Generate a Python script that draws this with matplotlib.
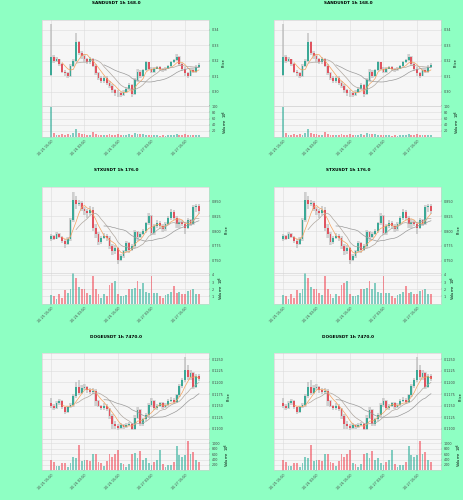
import matplotlib
matplotlib.use("Agg")
import matplotlib.pyplot as plt
import numpy as np

BG = "#8effc3"
GREEN = "#22ab94"
RED = "#f2404f"

XTICK_POS = [0, 12, 24, 36, 48]
XTICK_LABELS = ["10-25 15:00", "10-26 03:00", "10-26 15:00", "10-27 03:00", "10-27 15:00"]

# ---------------- SANDUSDT ----------------
sand_title = "SANDUSDT 1h 168.0"
sand_open0 = 0.3110
sand_close = [0.3225, 0.3200, 0.3210, 0.3180, 0.3130, 0.3120, 0.3105, 0.3170, 0.3200, 0.3320,
              0.3250, 0.3230, 0.3210, 0.3190, 0.3210, 0.3170, 0.3120, 0.3090, 0.3070, 0.3090,
              0.3060, 0.3040, 0.3010, 0.2995, 0.2990, 0.2980, 0.3000, 0.3020, 0.3045, 0.2985,
              0.3075, 0.3130, 0.3100, 0.3140, 0.3190, 0.3150, 0.3130, 0.3150, 0.3160, 0.3145,
              0.3140, 0.3150, 0.3165, 0.3190, 0.3205, 0.3225, 0.3180, 0.3150, 0.3120, 0.3105,
              0.3140, 0.3130, 0.3160, 0.3175]
sand_high = [0.3440, 0.3235, 0.3225, 0.3215, 0.3185, 0.3140, 0.3130, 0.3180, 0.3215, 0.3380,
             0.3330, 0.3265, 0.3245, 0.3220, 0.3225, 0.3220, 0.3180, 0.3130, 0.3100, 0.3105,
             0.3100, 0.3070, 0.3050, 0.3020, 0.3010, 0.3000, 0.3010, 0.3030, 0.3060, 0.3050,
             0.3090, 0.3150, 0.3140, 0.3150, 0.3200, 0.3195, 0.3160, 0.3160, 0.3170, 0.3170,
             0.3155, 0.3160, 0.3175, 0.3200, 0.3215, 0.3245, 0.3230, 0.3185, 0.3160, 0.3130,
             0.3150, 0.3150, 0.3175, 0.3185]
sand_low = [0.3100, 0.3185, 0.3190, 0.3165, 0.3120, 0.3105, 0.3090, 0.3095, 0.3160, 0.3195,
            0.3235, 0.3215, 0.3195, 0.3180, 0.3180, 0.3160, 0.3110, 0.3075, 0.3055, 0.3060,
            0.3045, 0.3025, 0.2995, 0.2975, 0.2970, 0.2965, 0.2975, 0.2995, 0.3015, 0.2970,
            0.2980, 0.3065, 0.3090, 0.3095, 0.3135, 0.3140, 0.3120, 0.3125, 0.3145, 0.3135,
            0.3130, 0.3135, 0.3145, 0.3160, 0.3185, 0.3200, 0.3170, 0.3135, 0.3100, 0.3090,
            0.3100, 0.3120, 0.3125, 0.3155]
sand_volume = [98, 12, 8, 6, 9, 7, 10, 8, 12, 26,
               14, 10, 9, 7, 8, 16, 10, 8, 6, 5,
               7, 9, 6, 8, 10, 7, 6, 5, 9, 8,
               12, 10, 9, 11, 8, 6, 5, 7, 6, 4,
               5, 4, 6, 8, 7, 9, 8, 6, 10, 7,
               5, 6, 8, 5]
sand_yticks = [0.30, 0.31, 0.32, 0.33, 0.34]
sand_ylim = (0.2909, 0.3464)
sand_vticks = [20, 40, 60, 80, 100]
sand_vlim = (0, 101)

# ---------------- STXUSDT ----------------
stx_title = "STXUSDT 1h 176.0"
stx_open0 = 0.786
stx_close = [0.792, 0.787, 0.795, 0.790, 0.783, 0.778, 0.786, 0.818, 0.852, 0.845,
             0.848, 0.838, 0.834, 0.830, 0.836, 0.806, 0.795, 0.781, 0.788, 0.792,
             0.789, 0.775, 0.766, 0.771, 0.752, 0.758, 0.766, 0.780, 0.769, 0.775,
             0.798, 0.790, 0.795, 0.800, 0.813, 0.826, 0.797, 0.808, 0.813, 0.809,
             0.803, 0.812, 0.822, 0.833, 0.822, 0.812, 0.815, 0.812, 0.806, 0.818,
             0.812, 0.840, 0.843, 0.834]
stx_high = [0.796, 0.794, 0.798, 0.797, 0.792, 0.786, 0.790, 0.822, 0.866, 0.860,
            0.852, 0.850, 0.840, 0.838, 0.842, 0.840, 0.812, 0.798, 0.792, 0.797,
            0.796, 0.792, 0.778, 0.776, 0.773, 0.762, 0.769, 0.784, 0.782, 0.778,
            0.802, 0.800, 0.798, 0.804, 0.816, 0.830, 0.828, 0.812, 0.818, 0.817,
            0.812, 0.815, 0.826, 0.837, 0.836, 0.826, 0.820, 0.818, 0.815, 0.822,
            0.820, 0.844, 0.846, 0.845]
stx_low = [0.784, 0.785, 0.786, 0.788, 0.780, 0.772, 0.776, 0.784, 0.816, 0.838,
           0.842, 0.834, 0.828, 0.822, 0.828, 0.800, 0.788, 0.776, 0.778, 0.786,
           0.784, 0.770, 0.760, 0.762, 0.745, 0.750, 0.755, 0.764, 0.764, 0.766,
           0.772, 0.784, 0.788, 0.793, 0.797, 0.810, 0.794, 0.794, 0.805, 0.804,
           0.798, 0.800, 0.810, 0.819, 0.818, 0.806, 0.806, 0.808, 0.796, 0.804,
           0.808, 0.810, 0.832, 0.829]
stx_volume = [1.2, 1.0, 0.6, 1.3, 0.8, 1.9, 1.5, 2.0, 4.2, 3.5,
              2.3, 2.1, 2.0, 1.5, 1.2, 3.9, 2.0, 1.4, 0.8, 1.3,
              1.0, 2.6, 2.9, 3.1, 1.3, 1.0, 1.1, 1.2, 2.1, 2.0,
              2.2, 3.1, 2.0, 2.8, 1.6, 1.5, 3.9, 1.5, 1.5, 1.0,
              0.8, 1.2, 1.3, 1.6, 2.5, 1.5, 1.6, 1.4, 1.4, 1.7,
              1.9, 2.1, 1.4, 1.3]
stx_yticks = [0.750, 0.775, 0.800, 0.825, 0.850]
stx_ylim = (0.730, 0.875)
stx_vticks = [1, 2, 3, 4]
stx_vlim = (0, 4.3)

# ---------------- DOGEUSDT ----------------
doge_title = "DOGEUSDT 1h 7470.0"
doge_open0 = 0.1156
doge_close = [0.1149, 0.1145, 0.1155, 0.1160, 0.1146, 0.1137, 0.1146, 0.1151, 0.1170, 0.1190,
              0.1178, 0.1189, 0.1190, 0.1183, 0.1179, 0.1182, 0.1160, 0.1150, 0.1145, 0.1150,
              0.1142, 0.1128, 0.1110, 0.1105, 0.1102, 0.1107, 0.1104, 0.1108, 0.1110, 0.1100,
              0.1124, 0.1140, 0.1111, 0.1120, 0.1130, 0.1152, 0.1160, 0.1145, 0.1150, 0.1155,
              0.1146, 0.1152, 0.1160, 0.1163, 0.1158, 0.1172, 0.1192, 0.1206, 0.1228, 0.1211,
              0.1221, 0.1191, 0.1214, 0.1208]
doge_high = [0.1166, 0.1154, 0.1160, 0.1164, 0.1162, 0.1148, 0.1150, 0.1156, 0.1174, 0.1200,
             0.1206, 0.1194, 0.1196, 0.1193, 0.1188, 0.1188, 0.1185, 0.1163, 0.1152, 0.1155,
             0.1154, 0.1145, 0.1132, 0.1116, 0.1110, 0.1112, 0.1110, 0.1112, 0.1115, 0.1113,
             0.1130, 0.1146, 0.1142, 0.1124, 0.1134, 0.1156, 0.1166, 0.1163, 0.1154, 0.1158,
             0.1158, 0.1156, 0.1164, 0.1168, 0.1166, 0.1176, 0.1196, 0.1210, 0.1256, 0.1238,
             0.1226, 0.1222, 0.1218, 0.1219]
doge_low = [0.1144, 0.1140, 0.1142, 0.1152, 0.1142, 0.1132, 0.1134, 0.1144, 0.1148, 0.1166,
            0.1172, 0.1175, 0.1184, 0.1178, 0.1174, 0.1176, 0.1150, 0.1146, 0.1140, 0.1140,
            0.1138, 0.1120, 0.1099, 0.1100, 0.1098, 0.1100, 0.1100, 0.1102, 0.1105, 0.1097,
            0.1098, 0.1120, 0.1105, 0.1106, 0.1116, 0.1126, 0.1148, 0.1140, 0.1140, 0.1148,
            0.1142, 0.1144, 0.1150, 0.1157, 0.1154, 0.1155, 0.1168, 0.1188, 0.1200, 0.1206,
            0.1205, 0.1186, 0.1188, 0.1203]
doge_volume = [380, 320, 160, 160, 280, 290, 140, 260, 500, 470,
               950, 350, 380, 380, 350, 620, 600, 320, 260, 160,
               350, 600, 500, 620, 740, 260, 240, 140, 240, 620,
               640, 440, 710, 400, 440, 260, 200, 320, 380, 740,
               240, 140, 200, 200, 320, 920, 560, 500, 560, 1100,
               620, 680, 400, 320]
doge_yticks = [0.1100, 0.1125, 0.1150, 0.1175, 0.1200, 0.1225, 0.1250]
doge_ylim = (0.1077, 0.1263)
doge_vticks = [200, 400, 600, 800, 1000]
doge_vlim = (0, 1150)

MA_WINDOWS = [5, 10, 20]
MA_COLORS = ["#f5a25d", "#b0a8a0", "#9a9a9a"]

charts = [
    (sand_title, sand_open0, sand_close, sand_high, sand_low, sand_volume, sand_yticks, sand_ylim, sand_vticks, sand_vlim, "{:.2f}"),
    (stx_title, stx_open0, stx_close, stx_high, stx_low, stx_volume, stx_yticks, stx_ylim, stx_vticks, stx_vlim, "{:.3f}"),
    (doge_title, doge_open0, doge_close, doge_high, doge_low, doge_volume, doge_yticks, doge_ylim, doge_vticks, doge_vlim, "{:.4f}"),
]

W, H = 464, 500
fig = plt.figure(figsize=(W / 100, H / 100), dpi=100, facecolor=BG)


def fx(px):
    return px / W


def fy(py):
    return 1 - py / H


def draw(ax_p, ax_v, title, open0, close, high, low, vol, yt, yl, vt, vl, fmt, title_x, title_y):
    close = np.array(close)
    opens = np.concatenate([[open0], close[:-1]])
    high = np.array(high)
    low = np.array(low)
    vol = np.array(vol)
    x = np.arange(len(close))
    up = close >= opens
    cols = np.where(up, GREEN, RED)
    for ax in (ax_p, ax_v):
        ax.set_facecolor("#f6f6f6")
        ax.grid(True, color="#dcdcdc", linewidth=0.4)
        ax.set_axisbelow(True)
        for s in ax.spines.values():
            s.set_color("#cfcfcf")
            s.set_linewidth(0.4)
    ax_p.bar(x, high - low, bottom=low, width=0.9, color="#bdbdbd", alpha=0.45, linewidth=0)
    ax_p.vlines(x, low, high, color="#9e9e9e", linewidth=0.3)
    body = np.abs(close - opens)
    body = np.maximum(body, (yl[1] - yl[0]) * 0.004)
    ax_p.bar(x, body, bottom=np.minimum(close, opens), width=0.65, color=cols, linewidth=0)
    for w, c in zip(MA_WINDOWS, MA_COLORS):
        ma = np.convolve(close, np.ones(w) / w, mode="valid")
        ax_p.plot(x[w - 1:], ma, color=c, linewidth=0.5)
    ax_p.set_ylim(*yl)
    ax_p.set_yticks(yt)
    ax_p.set_yticklabels([fmt.format(v) for v in yt])
    ax_p.yaxis.tick_right()
    ax_p.yaxis.set_label_position("right")
    ax_p.set_ylabel("Price", fontsize=2.6, labelpad=2)
    ax_p.tick_params(axis="y", labelsize=2.4, length=1, width=0.3, pad=1, colors="#444444")
    ax_p.tick_params(axis="x", length=0, labelbottom=False)
    ax_p.set_xticks(XTICK_POS)

    ax_v.bar(x, vol, width=0.65, color=cols, alpha=0.55, linewidth=0)
    ax_v.set_ylim(*vl)
    ax_v.set_yticks(vt)
    ax_v.set_yticklabels([str(v) for v in vt])
    ax_v.yaxis.tick_right()
    ax_v.yaxis.set_label_position("right")
    ax_v.set_ylabel("Volume  $10^{6}$", fontsize=2.6, labelpad=2)
    ax_v.tick_params(axis="y", labelsize=2.4, length=1, width=0.3, pad=1, colors="#444444")
    ax_v.set_xticks(XTICK_POS)
    ax_v.set_xticklabels(XTICK_LABELS, rotation=45, ha="right", rotation_mode="anchor")
    ax_v.tick_params(axis="x", labelsize=2.4, length=1, width=0.3, pad=1, colors="#444444")
    for ax in (ax_p, ax_v):
        ax.set_xlim(-3.2, 56.6)
    fig.text(title_x, fy(title_y), title, ha="center", va="center", fontsize=3.1, fontweight="bold")


cols_px = [(42, 209), (274, 441)]
for r, ch in enumerate(charts):
    off = r * 166.67
    for (x0, x1) in cols_px:
        p_top, p_bot, v_bot = 20 + off, 106 + off, 137 + off
        ax_p = fig.add_axes([fx(x0), fy(p_bot), fx(x1 - x0), (p_bot - p_top) / H])
        ax_v = fig.add_axes([fx(x0), fy(v_bot), fx(x1 - x0), (v_bot - p_bot) / H], sharex=ax_p)
        draw(ax_p, ax_v, *ch, title_x=fx(x0 + 74), title_y=3.5 + off)

fig.savefig("out.png", dpi=100, facecolor=BG)
